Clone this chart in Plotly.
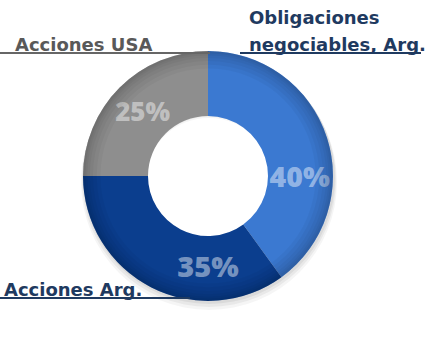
import plotly.graph_objects as go

labels = ["Obligaciones negociables, Arg.", "Acciones Arg.", "Acciones USA"]
values = [40, 35, 25]
colors = ["#3b79d1", "#0b3e8e", "#8e8e8e"]
texts = ["40%", "35%", "25%"]

W, H = 439, 352
cx, cy, r = 208, 176, 125


def dom(rad, dx=0, dy=0):
    return dict(x=[(cx + dx - rad) / W, (cx + dx + rad) / W],
                y=[(H - cy - dy - rad) / H, (H - cy - dy + rad) / H])


fig = go.Figure()
# soft shadow
for k, a in [(6, 0.04), (4, 0.05), (2, 0.06)]:
    fig.add_trace(go.Pie(
        values=[1], marker=dict(colors=[f"rgba(0,0,0,{a})"], line=dict(width=0)),
        hole=0.5, textinfo="none", hoverinfo="skip", showlegend=False, sort=False,
        domain=dom(r + k / 2, dx=1, dy=k),
    ))
fig.add_trace(go.Pie(
    labels=labels, values=values, text=texts, textinfo="text",
    marker=dict(colors=colors, line=dict(width=0)),
    hole=0.48, sort=False, direction="clockwise", rotation=0,
    textposition="inside", insidetextorientation="horizontal",
    textfont=dict(family="Open Sans", size=29, color="rgba(255,255,255,0.45)", weight=800),
    showlegend=False, hoverinfo="skip",
    domain=dom(r),
))
# radial shading overlays (outer edge darker)
for h in [0.86, 0.89, 0.92, 0.945, 0.965, 0.98]:
    fig.add_trace(go.Pie(
        values=[1], marker=dict(colors=["rgba(0,0,0,0.035)"], line=dict(width=0)),
        hole=h, textinfo="none", hoverinfo="skip", showlegend=False, sort=False,
        domain=dom(r),
    ))


def px(x):
    return x / W


def py(y):
    return 1 - y / H


shapes = [
    dict(type="line", xref="paper", yref="paper", x0=px(0), x1=px(210), y0=py(53), y1=py(53),
         line=dict(color="#666666", width=2)),
    dict(type="line", xref="paper", yref="paper", x0=px(240), x1=px(421), y0=py(53), y1=py(53),
         line=dict(color="#1f3a60", width=2)),
    dict(type="line", xref="paper", yref="paper", x0=px(0), x1=px(190), y0=py(298), y1=py(298),
         line=dict(color="#1f3a60", width=2)),
]

lab_font = "DejaVu Sans"
fs = 18
ann = [
    dict(text="Acciones USA", x=px(13), y=py(44), xanchor="left", yanchor="middle",
         font=dict(family=lab_font, size=fs, color="#595959", weight="bold")),
    dict(text="Obligaciones", x=px(247), y=py(17), xanchor="left", yanchor="middle",
         font=dict(family=lab_font, size=fs, color="#1f3a60", weight="bold")),
    dict(text="negociables, Arg.", x=px(247), y=py(44), xanchor="left", yanchor="middle",
         font=dict(family=lab_font, size=fs, color="#1f3a60", weight="bold")),
    dict(text="Acciones Arg.", x=px(2), y=py(289), xanchor="left", yanchor="middle",
         font=dict(family=lab_font, size=fs, color="#1f3a60", weight="bold")),
]
for a in ann:
    a.update(xref="paper", yref="paper", showarrow=False)

fig.update_layout(
    width=W, height=H, margin=dict(l=0, r=0, t=0, b=0),
    paper_bgcolor="white", plot_bgcolor="white",
    shapes=shapes, annotations=ann,
)
fig.write_html("out.html")
